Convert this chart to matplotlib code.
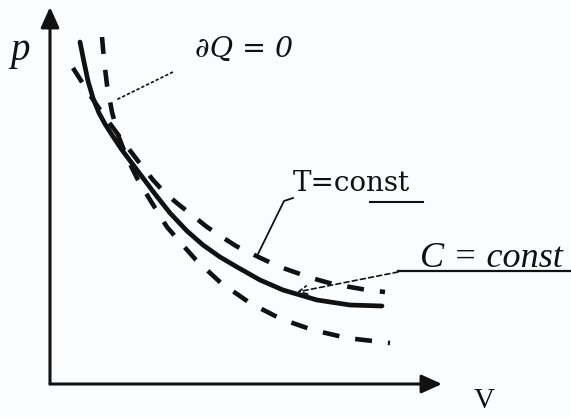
import matplotlib
matplotlib.use("Agg")
import matplotlib.pyplot as plt

# ---- data (arbitrary units: V to the right, p upward) ----
iso_v = [3.0, 3.4, 3.8, 4.3, 4.9, 5.5, 6.2, 7.2, 9.0, 10.5, 12.0, 13.7, 15.3, 17.0, 18.7, 21.0, 23.3, 26.7, 30.0, 33.2]
iso_p = [34.2, 32.2, 30.3, 28.6, 27.1, 26.0, 24.9, 23.4, 21.0, 19.0, 17.1, 15.3, 13.9, 12.7, 11.7, 10.4, 9.4, 8.4, 7.9, 7.8]

adi_v = [5.2, 5.4, 5.7, 6.2, 6.8, 7.7, 8.8, 10.2, 11.7, 13.0, 14.6, 17.1, 20.0, 23.1, 26.3, 29.7, 34.0]
adi_p = [34.7, 32.4, 29.9, 27.2, 24.9, 22.6, 20.4, 18.1, 15.7, 14.2, 12.4, 10.1, 8.1, 6.5, 5.4, 4.6, 4.1]

poly_v = [2.3, 3.0, 3.8, 4.6, 5.8, 7.2, 8.8, 10.3, 11.5, 12.8, 14.2, 15.7, 17.2, 18.6, 20.0, 21.7,
          23.3, 25.0, 26.5, 28.3, 30.0, 31.7, 33.5]
poly_p = [31.6, 30.5, 29.2, 28.0, 26.3, 24.4, 22.3, 20.4, 19.1, 18.0, 16.9, 15.7, 14.7, 13.8, 13.1, 12.3,
          11.6, 11.0, 10.5, 10.0, 9.7, 9.4, 9.2]

label_p = "p"
label_v = "V"
label_adi = "∂Q = 0"
label_iso = "T=const"
label_poly = "C = const"

# ---- figure ----
fig = plt.figure(figsize=(5.71, 4.17), dpi=100)
fig.patch.set_facecolor("#fbfcfe")
ax = fig.add_axes([0, 0, 1, 1])
ax.set_facecolor("#fbfcfe")
ax.set_xlim(-5.0, 52.1)
ax.set_ylim(-3.3, 38.4)
ax.axis("off")

ink = "#111111"

# axes with arrows
arrow_kw = dict(arrowstyle="-|>,head_length=0.62,head_width=0.28", lw=2.2, color=ink,
                mutation_scale=20, shrinkA=0, shrinkB=0)
ax.annotate("", xy=(0, 37.7), xytext=(0, 0), arrowprops=arrow_kw)
ax.annotate("", xy=(39.2, 0), xytext=(0, 0), arrowprops=arrow_kw)

# curves
ax.plot(iso_v, iso_p, color=ink, lw=3.4, solid_capstyle="round", solid_joinstyle="round")
ax.plot(adi_v, adi_p, color=ink, lw=3.3, dashes=(3.7, 3.5))
ax.plot(poly_v, poly_p, color=ink, lw=3.3, dashes=(3.7, 3.5))

# leader lines
ax.plot([12.3, 6.6], [31.2, 28.4], color=ink, lw=1.2, dashes=(2.0, 1.2))
ax.plot([20.8, 23.4, 24.3], [13.0, 18.3, 18.6], color=ink, lw=1.3)
ax.plot([32.0, 37.3], [18.2, 18.2], color=ink, lw=1.5)
ax.plot([34.8, 52.1], [11.3, 11.3], color=ink, lw=1.6)
ax.annotate("", xy=(24.7, 9.2), xytext=(34.8, 11.2),
            arrowprops=dict(arrowstyle="->,head_length=0.5,head_width=0.25", lw=1.2,
                            linestyle=(0, (3, 2)), color=ink, shrinkA=0, shrinkB=0,
                            mutation_scale=12))

# labels
ax.text(-4.0, 32.4, label_p, fontfamily="Liberation Serif", fontstyle="italic",
        fontsize=28, color=ink, ha="left", va="baseline")
ax.text(14.5, 32.7, label_adi, fontfamily="DejaVu Serif", fontstyle="italic",
        fontsize=20.5, color=ink, ha="left", va="baseline")
ax.text(24.3, 19.3, label_iso, fontfamily="DejaVu Serif",
        fontsize=20, color=ink, ha="left", va="baseline")
ax.text(37.0, 11.7, label_poly, fontfamily="Liberation Serif", fontstyle="italic",
        fontsize=26, color=ink, ha="left", va="baseline")
ax.text(42.4, -3.0, label_v, fontfamily="Liberation Serif",
        fontsize=21, color=ink, ha="left", va="bottom")

fig.savefig("out.png", dpi=100, facecolor=fig.get_facecolor())
